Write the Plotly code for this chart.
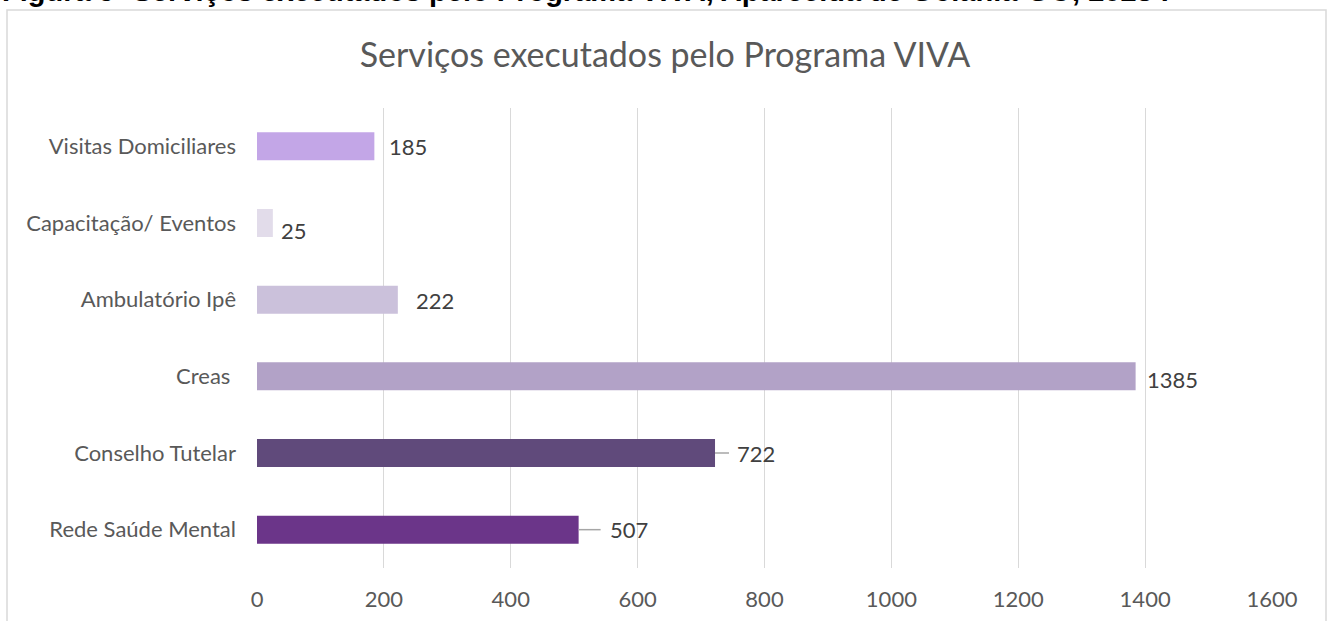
import plotly.graph_objects as go

# ---- data ----
categories = ["Visitas Domiciliares", "Capacitação/ Eventos", "Ambulatório Ipê",
              "Creas ", "Conselho Tutelar", "Rede Saúde Mental"]
values = [185, 25, 222, 1385, 722, 507]
bar_colors = ["#C3A6E7", "#E2DCEA", "#CBC1DB", "#B2A2C7", "#604A7B", "#6B3589"]
x_ticks = [0, 200, 400, 600, 800, 1000, 1200, 1400, 1600]

chart_title = "Serviços executados pelo Programa VIVA"
caption = "Figura 9- Serviços executados pelo Programa VIVA, Aparecida de Goiânia-GO, 2023 ."

# label placement styling (pixels)
label_xshift = [13, 6, 16, 9, 20, 29]
label_yshift = [0, -7, -1, -3, 0, 0]
leader_len = [0, 0, 0, 0, 14, 22]

W, H = 1330, 621
L, R, T, B = 257, 58, 108, 53
pw = W - L - R
ph = H - T - B

def px_x(p):
    return (p - L) / pw

def px_y(p):
    return (H - B - p) / ph

fig = go.Figure()
fig.add_trace(go.Bar(
    y=list(range(len(categories))), x=values, orientation="h",
    marker=dict(color=bar_colors, line=dict(width=0)),
    width=0.365, hoverinfo="skip",
))

annotations = []
shapes = []
for i, v in enumerate(values):
    annotations.append(dict(
        x=v, y=i, xref="x", yref="y", text=str(v), showarrow=False,
        xanchor="left", yanchor="middle", xshift=label_xshift[i], yshift=label_yshift[i],
        font=dict(family="Lato", size=22, color="#404040"),
    ))
    if leader_len[i] > 0:
        shapes.append(dict(
            type="line", xref="x", yref="y", xsizemode="pixel", xanchor=v,
            x0=0, x1=leader_len[i], y0=i, y1=i,
            line=dict(color="#A6A6A6", width=1.5),
        ))

# caption (cut at top of image, as in the source)
annotations.append(dict(
    x=px_x(0), y=px_y(-9), xref="paper", yref="paper", text="<b>" + caption + "</b>",
    showarrow=False, xanchor="left", yanchor="middle",
    font=dict(family="Liberation Sans, Arial", size=29, color="#000000"),
))

# chart border
shapes.append(dict(
    type="rect", xref="paper", yref="paper",
    x0=px_x(7), x1=px_x(1326), y0=px_y(700), y1=px_y(10),
    line=dict(color="#D9D9D9", width=1.5), fillcolor="rgba(0,0,0,0)", layer="below",
))

fig.update_layout(
    width=W, height=H,
    margin=dict(l=L, r=R, t=T, b=B, autoexpand=False),
    paper_bgcolor="white", plot_bgcolor="white",
    showlegend=False,
    title=dict(text=chart_title, x=0.5, xref="container", xanchor="center",
               y=1 - 55 / H, yref="container", yanchor="middle",
               font=dict(family="Lato", size=34, color="#595959")),
    xaxis=dict(range=[0, 1600], tickvals=x_ticks, ticktext=[str(t) for t in x_ticks],
               showgrid=True, gridcolor="#D9D9D9", gridwidth=1.3,
               zeroline=False, showline=False, ticks="",
               ticklabelstandoff=16,
               tickfont=dict(family="Lato", size=22, color="#595959")),
    yaxis=dict(tickvals=list(range(len(categories))), ticktext=categories,
               range=[len(categories) - 0.5, -0.5],
               showgrid=False, zeroline=False, showline=False, ticks="",
               ticklabelstandoff=20,
               tickfont=dict(family="Lato", size=22, color="#595959")),
    annotations=annotations, shapes=shapes,
    bargap=0.6,
)

fig.write_html("out.html",
               config={"displayModeBar": False},
               post_script="document.body.style.margin='0px';document.body.style.overflow='hidden';")
